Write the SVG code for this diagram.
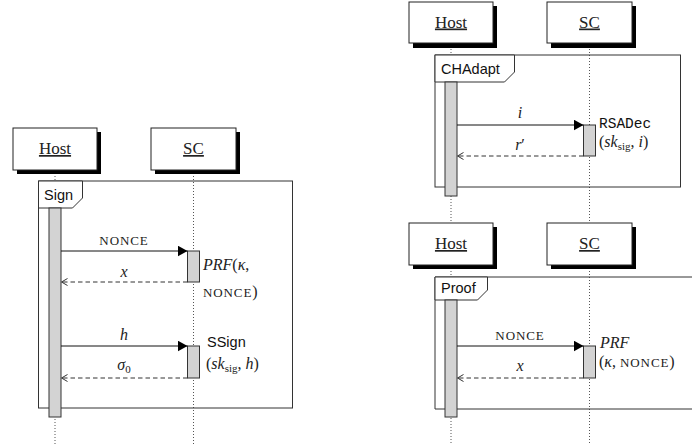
<svg xmlns="http://www.w3.org/2000/svg" width="692" height="445" viewBox="0 0 692 445">
<defs>
<style>
.shadow{fill:#000}
.box{fill:#fff;stroke:#222;stroke-width:1}
.actor{font-family:"Liberation Serif",serif;font-size:17px;text-anchor:middle;fill:#222;text-decoration:underline}
.life{stroke:#555;stroke-width:1;stroke-dasharray:1 2;fill:none}
.frame{fill:none;stroke:#333;stroke-width:1}
.tab{fill:#fff;stroke:#333;stroke-width:1}
.tabt{font-family:"Liberation Sans",sans-serif;font-size:14.5px;fill:#111}
.bar{fill:#d3d3d3;stroke:#333;stroke-width:1}
.msg{stroke:#111;stroke-width:1;fill:none}
.ret{stroke:#333;stroke-width:1;stroke-dasharray:4.5 3;fill:none}
.math{font-family:"Liberation Serif",serif;font-size:16px;fill:#222}
.it{font-style:italic}
.sub{font-size:11px;font-style:normal}
.sc{font-family:"Liberation Serif",serif;font-size:13px;letter-spacing:0.9px;font-style:normal;fill:#222}
.mid{text-anchor:middle}
.op{font-family:"Liberation Sans",sans-serif;font-size:14.5px;fill:#111}
.mono{font-family:"Liberation Mono",monospace;font-size:14.5px;fill:#111}
</style>
<marker id="ah" viewBox="0 0 10 11" refX="10" refY="5.5" markerWidth="10" markerHeight="11" markerUnits="userSpaceOnUse" orient="auto">
<path d="M0,0 L10,5.5 L0,11 z" fill="#000"/>
</marker>
<marker id="oh" viewBox="-1 -1 8 9" refX="6" refY="3.5" markerWidth="8" markerHeight="9" markerUnits="userSpaceOnUse" orient="auto">
<path d="M0,0 L6,3.5 L0,7" fill="none" stroke="#333" stroke-width="1"/>
</marker>
</defs>

<!-- lifelines -->
<g id="lifelines">
<line class="life" x1="55" y1="170" x2="55" y2="445"/>
<line class="life" x1="193.5" y1="170" x2="193.5" y2="445"/>
<line class="life" x1="451" y1="43" x2="451" y2="223"/>
<line class="life" x1="589.5" y1="43" x2="589.5" y2="223"/>
<line class="life" x1="451" y1="265" x2="451" y2="445"/>
<line class="life" x1="589.5" y1="265" x2="589.5" y2="445"/>
</g>

<!-- frames -->
<g id="frame-sign">
<rect class="frame" x="38.5" y="181" width="254" height="227"/>
<path class="tab" d="M38.5,181 H82.5 V198 L72.5,208 H38.5 Z"/>
<text class="tabt" x="44" y="200">Sign</text>
</g>
<g id="frame-chadapt">
<rect class="frame" x="435" y="55" width="245.5" height="132"/>
<path class="tab" d="M435,55 H514.5 V72 L504.5,82 H435 Z"/>
<text class="tabt" x="441" y="74">CHAdapt</text>
</g>
<g id="frame-proof">
<path class="frame" d="M700,277 H435 V409 H700"/>
<path class="tab" d="M435,277 H487.5 V290 L477.5,300 H435 Z"/>
<text class="tabt" x="441" y="293">Proof</text>
</g>

<!-- activation bars -->
<g id="bars">
<rect class="bar" x="49" y="208" width="12" height="209"/>
<rect class="bar" x="187.5" y="251" width="12" height="31"/>
<rect class="bar" x="187.5" y="346" width="12" height="32"/>
<rect class="bar" x="445" y="82" width="12" height="114"/>
<rect class="bar" x="583.5" y="125" width="12" height="31"/>
<rect class="bar" x="445" y="300" width="12" height="117"/>
<rect class="bar" x="583.5" y="346" width="12" height="32"/>
</g>

<!-- connectors -->
<g id="connectors">
<line class="msg" x1="61" y1="251" x2="187.5" y2="251" marker-end="url(#ah)"/>
<line class="ret" x1="187.5" y1="282" x2="61.5" y2="282" marker-end="url(#oh)"/>
<line class="msg" x1="61" y1="346" x2="187.5" y2="346" marker-end="url(#ah)"/>
<line class="ret" x1="187.5" y1="378" x2="61.5" y2="378" marker-end="url(#oh)"/>
<line class="msg" x1="457" y1="125" x2="583.5" y2="125" marker-end="url(#ah)"/>
<line class="ret" x1="583.5" y1="156" x2="457.5" y2="156" marker-end="url(#oh)"/>
<line class="msg" x1="457" y1="346" x2="583.5" y2="346" marker-end="url(#ah)"/>
<line class="ret" x1="583.5" y1="378" x2="457.5" y2="378" marker-end="url(#oh)"/>
</g>

<!-- message labels -->
<g id="labels">
<text class="sc mid" x="124" y="245">NONCE</text>
<text class="math it mid" x="124" y="276.5">x</text>
<text class="math it mid" x="124" y="340">h</text>
<text class="math mid" x="124" y="370"><tspan class="it">σ</tspan><tspan class="sub" dy="3">0</tspan></text>
<text class="math it mid" x="520" y="118">i</text>
<text class="math mid" x="520" y="150"><tspan class="it">r</tspan>′</text>
<text class="sc mid" x="520" y="339.5">NONCE</text>
<text class="math it mid" x="520" y="371">x</text>
</g>

<!-- operation labels -->
<g id="ops">
<text class="math" x="203" y="270"><tspan class="it">PRF</tspan>(<tspan class="it">κ</tspan>,</text>
<text class="math" x="203" y="297"><tspan class="sc">NONCE</tspan>)</text>
<text class="op" x="207" y="347">SSign</text>
<text class="math" x="206" y="369">(<tspan class="it">sk</tspan><tspan class="sub" dy="3">sig</tspan><tspan dy="-3">, </tspan><tspan class="it">h</tspan>)</text>
<text class="mono" x="599" y="128">RSADec</text>
<text class="math" x="599" y="147">(<tspan class="it">sk</tspan><tspan class="sub" dy="3">sig</tspan><tspan dy="-3">, </tspan><tspan class="it">i</tspan>)</text>
<text class="math it" x="600" y="348">PRF</text>
<text class="math" x="599" y="367">(<tspan class="it">κ</tspan>, <tspan class="sc">NONCE</tspan>)</text>
</g>

<!-- actor boxes -->
<g id="host-1">
<rect class="shadow" x="17" y="132" width="84" height="42"/>
<rect class="box" x="13" y="128" width="84" height="42"/>
<text class="actor" x="55" y="154">Host</text>
</g>
<g id="sc-1">
<rect class="shadow" x="155" y="132" width="85" height="42"/>
<rect class="box" x="151" y="128" width="85" height="42"/>
<text class="actor" x="193.5" y="154">SC</text>
</g>
<g id="host-2">
<rect class="shadow" x="413" y="6" width="84" height="42"/>
<rect class="box" x="409" y="2" width="84" height="41"/>
<text class="actor" x="451" y="27.5">Host</text>
</g>
<g id="sc-2">
<rect class="shadow" x="551" y="6" width="85" height="42"/>
<rect class="box" x="547" y="2" width="85" height="41"/>
<text class="actor" x="589.5" y="27.5">SC</text>
</g>
<g id="host-3">
<rect class="shadow" x="413" y="227" width="84" height="42"/>
<rect class="box" x="409" y="223" width="84" height="42"/>
<text class="actor" x="451" y="249">Host</text>
</g>
<g id="sc-3">
<rect class="shadow" x="551" y="227" width="85" height="42"/>
<rect class="box" x="547" y="223" width="85" height="42"/>
<text class="actor" x="589.5" y="249">SC</text>
</g>
</svg>
